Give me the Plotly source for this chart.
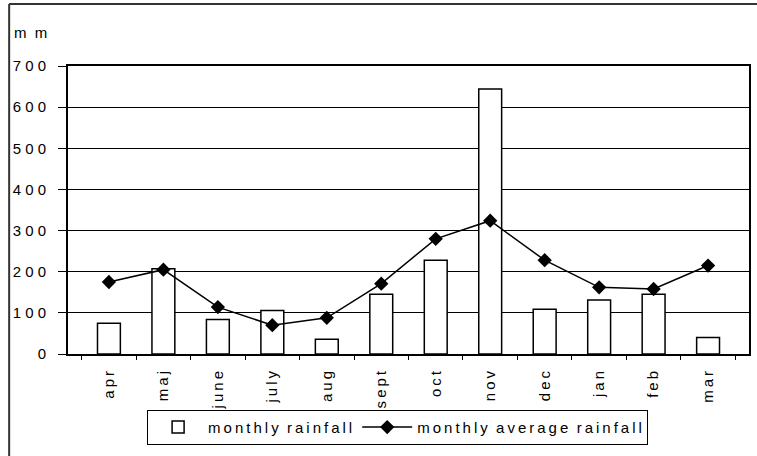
import plotly.graph_objects as go

months = ["apr", "maj", "june", "july", "aug", "sept", "oct", "nov", "dec", "jan", "feb", "mar"]
monthly_rainfall = [75, 207, 84, 106, 36, 145, 228, 644, 109, 131, 145, 40]
monthly_average = [175, 205, 114, 70, 88, 171, 280, 324, 228, 162, 158, 215]
y_ticks = [0, 100, 200, 300, 400, 500, 600, 700]

SP = "\u2009"
def spaced(s, sep=SP):
    return sep.join(list(s))

FONT = "Liberation Sans Narrow, Arial Narrow, Liberation Sans, Arial, sans-serif"

fig = go.Figure()
fig.add_trace(go.Bar(
    x=months, y=monthly_rainfall, name=spaced("monthly") + "  " + spaced("rainfall"),
    marker=dict(color="white", line=dict(color="black", width=1.5)),
))
fig.add_trace(go.Scatter(
    x=months, y=monthly_average, mode="lines+markers",
    name=spaced("monthly") + "  " + spaced("average") + "  " + spaced("rainfall"),
    line=dict(color="black", width=1.5),
    marker=dict(symbol="diamond", size=11, color="black"),
))

fig.update_layout(
    width=757, height=456,
    margin=dict(l=68, r=6, t=66, b=102),
    paper_bgcolor="white", plot_bgcolor="white",
    font=dict(family=FONT, size=15, color="black"),
    bargap=0.58,
    showlegend=True,
    legend=dict(orientation="h", x=0.484, xanchor="center", y=-0.194, yanchor="top",
                bordercolor="black", borderwidth=1, font=dict(size=15, family=FONT),
                traceorder="normal", itemwidth=50),
    xaxis=dict(
        type="category", tickvals=months, ticktext=[spaced(m) for m in months],
        tickangle=-90, ticks="outside", ticklen=4, tickcolor="black",
        tickson="boundaries", showline=True, linecolor="black", linewidth=2, mirror=True,
        showgrid=False, ticklabelstandoff=9,
    ),
    yaxis=dict(
        range=[0, 700], tickvals=y_ticks, ticktext=[" ".join(str(v)) for v in y_ticks],
        ticks="outside", ticklen=8, tickcolor="black",
        showline=True, linecolor="black", linewidth=2, mirror=True,
        showgrid=True, gridcolor="black", gridwidth=1, zeroline=False,
        ticklabelstandoff=9,
    ),
    annotations=[dict(text="m  m", xref="paper", yref="paper", x=-0.082, y=1.115,
                      xanchor="left", yanchor="middle", showarrow=False,
                      font=dict(size=15, family=FONT))],
    shapes=[
        dict(type="line", xref="paper", yref="paper", x0=-0.0864, x1=1.1, y0=1.215, y1=1.215,
             line=dict(color="#333333", width=2)),
        dict(type="line", xref="paper", yref="paper", x0=-0.0864, x1=-0.0864, y0=1.215, y1=-0.4,
             line=dict(color="#333333", width=2)),
    ],
)

fig.write_html("out.html")
